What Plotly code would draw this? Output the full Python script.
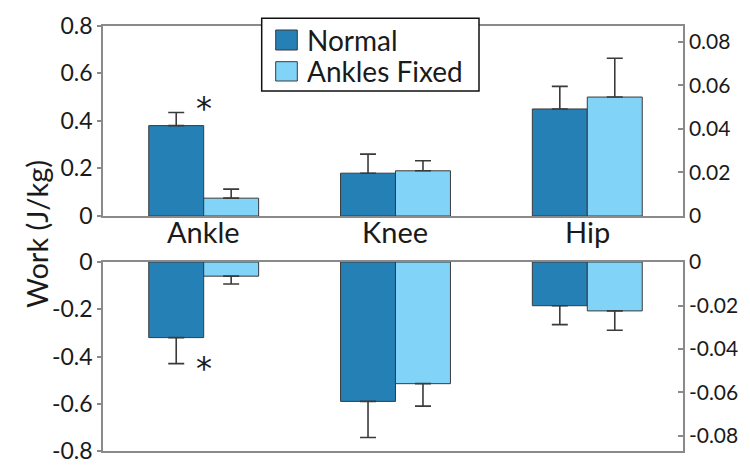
import plotly.graph_objects as go

categories = ["Ankle", "Knee", "Hip"]
series_names = ["Normal", "Ankles Fixed"]

pos_normal = [0.38, 0.18, 0.45]
pos_normal_err = [0.055, 0.08, 0.095]
pos_fixed = [0.075, 0.19, 0.50]
pos_fixed_err = [0.038, 0.042, 0.163]

neg_normal = [-0.32, -0.59, -0.185]
neg_normal_err = [0.11, 0.153, 0.08]
neg_fixed = [-0.06, -0.515, -0.207]
neg_fixed_err = [0.033, 0.095, 0.082]

left_top_ticks = [0, 0.2, 0.4, 0.6, 0.8]
left_top_text = ["0", "0.2", "0.4", "0.6", "0.8"]
right_top_ticks = [0, 0.02, 0.04, 0.06, 0.08]
right_top_text = ["0", "0.02", "0.04", "0.06", "0.08"]
left_bot_ticks = [0, -0.2, -0.4, -0.6, -0.8]
left_bot_text = ["0", "-0.2", "-0.4", "-0.6", "-0.8"]
right_bot_ticks = [0, -0.02, -0.04, -0.06, -0.08]
right_bot_text = ["0", "-0.02", "-0.04", "-0.06", "-0.08"]

y_title = "Work (J/kg)"

C_NORMAL = "#2580b5"
C_FIXED = "#81d4f8"
OUTLINE = "#3a3a3a"
AXIS = "#8a8a8a"
FONT = "Lato"
TXT = "#1a1a1a"

# the page body adds an 8px margin; size the figure so it fills the window
OFF = 8
W, H = 750 - OFF, 471 - OFF


def PX(x):
    return (x - OFF) / W


def PY(y):
    return 1 - (y - OFF) / H


fig = go.Figure()


def bar(x, y, err, color, name, xa, ya, up):
    if up:
        eb = dict(type="data", symmetric=False, array=err, arrayminus=[0] * len(err),
                  color=OUTLINE, thickness=1.6, width=8)
    else:
        eb = dict(type="data", symmetric=False, array=[0] * len(err), arrayminus=err,
                  color=OUTLINE, thickness=1.6, width=8)
    return go.Bar(x=x, y=y, name=name, marker=dict(color=color, line=dict(color=OUTLINE, width=1)),
                  error_y=eb, xaxis=xa, yaxis=ya, showlegend=False, hoverinfo="skip")


fig.add_trace(bar(categories, pos_normal, pos_normal_err, C_NORMAL, series_names[0], "x", "y", True))
fig.add_trace(bar(categories, pos_fixed, pos_fixed_err, C_FIXED, series_names[1], "x", "y", True))
fig.add_trace(bar(categories, neg_normal, neg_normal_err, C_NORMAL, series_names[0], "x2", "y3", False))
fig.add_trace(bar(categories, neg_fixed, neg_fixed_err, C_FIXED, series_names[1], "x2", "y3", False))
# invisible traces to anchor the right-hand axes
fig.add_trace(go.Scatter(x=categories, y=[None] * 3, xaxis="x", yaxis="y2", showlegend=False, hoverinfo="skip"))
fig.add_trace(go.Scatter(x=categories, y=[None] * 3, xaxis="x2", yaxis="y4", showlegend=False, hoverinfo="skip"))

xdom = [PX(103), PX(683)]
top_dom = [PY(216), PY(25.7)]
bot_dom = [PY(451), PY(262)]
xr = [-0.525, 2.499]

common_y = dict(showgrid=False, zeroline=False, showline=True, linecolor=AXIS, linewidth=1.5,
                tickcolor=AXIS, tickwidth=1.5, automargin=False)
left_y = dict(ticks="outside", ticklen=4, tickfont=dict(family=FONT, size=23, color=TXT), **common_y)
right_y = dict(ticks="inside", ticklen=5, tickfont=dict(family=FONT, size=21, color=TXT), **common_y)

fig.update_layout(
    width=W, height=H, autosize=False,
    margin=dict(l=0, r=0, t=0, b=0, pad=0),
    paper_bgcolor="white", plot_bgcolor="white",
    barmode="group", bargap=0.427, bargroupgap=0,
    xaxis=dict(domain=xdom, range=xr, anchor="y", showgrid=False, zeroline=False,
               showline=True, mirror=True, linecolor=AXIS, linewidth=1.5, ticks="",
               showticklabels=False, automargin=False),
    xaxis2=dict(domain=xdom, range=xr, anchor="y3", showgrid=False, zeroline=False,
                showline=True, mirror=True, linecolor=AXIS, linewidth=1.5, ticks="",
                showticklabels=False, automargin=False),
    yaxis=dict(domain=top_dom, range=[0, 0.8], anchor="x", tickmode="array",
               tickvals=left_top_ticks, ticktext=left_top_text, **left_y),
    yaxis2=dict(domain=top_dom, range=[0, 0.0873], overlaying="y", side="right", anchor="x",
                tickmode="array", tickvals=right_top_ticks, ticktext=right_top_text, **right_y),
    yaxis3=dict(domain=bot_dom, range=[-0.8, 0], anchor="x2", tickmode="array",
                tickvals=left_bot_ticks, ticktext=left_bot_text, **left_y),
    yaxis4=dict(domain=bot_dom, range=[-0.0869, 0], overlaying="y3", side="right", anchor="x2",
                tickmode="array", tickvals=right_bot_ticks, ticktext=right_bot_text, **right_y),
)

annotations = [
    dict(text=y_title, xref="paper", yref="paper", x=PX(36), y=PY(234),
         textangle=-90, showarrow=False, font=dict(family=FONT, size=29, color=TXT),
         xanchor="center", yanchor="middle"),
    dict(text="*", xref="x", yref="y", x=categories[0], y=pos_normal[0] + pos_normal_err[0],
         showarrow=False, font=dict(family="DejaVu Sans", size=32, color=TXT), xshift=0,
         yanchor="middle", yshift=5),
    dict(text="*", xref="x2", yref="y3", x=categories[0], y=neg_normal[0] - neg_normal_err[0],
         showarrow=False, font=dict(family="DejaVu Sans", size=32, color=TXT), xshift=0,
         yanchor="middle", yshift=-4),
]
for c in categories:
    annotations.append(dict(text=c, xref="x", yref="paper", x=c, y=PY(232),
                            xanchor="center", yanchor="middle", showarrow=False,
                            font=dict(family=FONT, size=29, color=TXT)))

# manual legend
shapes = [dict(type="rect", xref="paper", yref="paper", x0=PX(261.7), x1=PX(479),
               y0=PY(91), y1=PY(18.3), line=dict(color="#111", width=1.5),
               fillcolor="white", layer="above")]
legend_rows = [(30, 50), (61.7, 81)]
for (y0, y1), name, col in zip(legend_rows, series_names, [C_NORMAL, C_FIXED]):
    shapes.append(dict(type="rect", xref="paper", yref="paper", x0=PX(275.7), x1=PX(297.3),
                       y0=PY(y1), y1=PY(y0), line=dict(color=OUTLINE, width=1),
                       fillcolor=col, layer="above"))
    annotations.append(dict(text=name, xref="paper", yref="paper", x=PX(305),
                            y=PY((y0 + y1) / 2), xanchor="left", yanchor="middle",
                            showarrow=False, font=dict(family=FONT, size=28, color=TXT)))

fig.update_layout(shapes=shapes, annotations=annotations)

fig.write_html("out.html")
